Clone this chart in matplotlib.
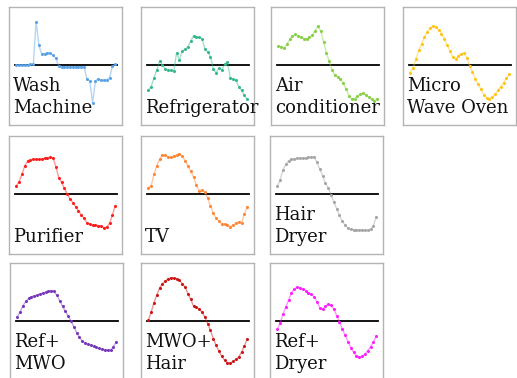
import matplotlib
matplotlib.use('Agg')
import matplotlib.pyplot as plt

W, H = 517, 378

labels = ['Wash\nMachine', 'Refrigerator', 'Air\nconditioner', 'Micro\nWave Oven',
	'Purifier', 'TV', 'Hair\nDryer',
	'Ref+\nMWO', 'MWO+\nHair', 'Ref+\nDryer']

colors = ['#5aa2e6', '#34b88a', '#86d042', '#ffc414',
	'#ff1c1c', '#ff8532', '#a6a6a6',
	'#7836bc', '#cc1414', '#ff1cff']

wash = [0, 0, 0, 0, 0, 0.02, 0.02, 1.30, 0.59, 0.32, 0.34, 0.37, 0.36, 0.29, 0.20, -0.03,
	-0.05, -0.05, -0.05, -0.05, -0.05, -0.05, -0.05, -0.05, -0.06, -0.43, -0.48, -1.13,
	-0.48, -0.41, -0.46, -0.45, -0.45, -0.38, -0.03, 0.02]
fridge = [-0.75, -0.65, -0.38, -0.15, 0.12, 0.01, -0.13, -0.16, -0.15, -0.18, 0.37, 0.15,
	0.42, 0.47, 0.54, 0.72, 0.87, 0.85, 0.83, 0.79, 0.49, 0.39, 0.25, -0.11, -0.23, -0.10,
	-0.15, 0.02, 0.09, -0.38, -0.43, -0.46, -0.65, -0.76, -0.91, -1.03]
aircon = [0.57, 0.55, 0.50, 0.62, 0.77, 0.87, 0.92, 0.87, 0.83, 0.79, 0.79, 0.83, 0.89,
	1.02, 1.17, 1.02, 0.70, 0.37, 0.12, -0.15, -0.31, -0.36, -0.41, -0.55, -0.71, -0.93,
	-1.03, -1.01, -0.93, -0.88, -0.85, -0.90, -0.96, -1.03, -1.08, -1.01]
mwo = [-0.23, -0.08, 0.19, 0.44, 0.64, 0.85, 1.00, 1.11, 1.17, 1.14, 1.05, 0.94, 0.79,
	0.61, 0.42, 0.25, 0.17, 0.27, 0.34, 0.35, 0.22, -0.03, -0.21, -0.41, -0.58, -0.73,
	-0.89, -0.99, -1.01, -0.95, -0.87, -0.76, -0.65, -0.53, -0.40, -0.28]
purifier = [0.25, 0.37, 0.60, 0.85, 0.99, 1.03, 1.04, 1.04, 1.04, 1.05, 1.07, 1.09, 1.10,
	1.08, 0.82, 0.49, 0.35, 0.17, 0.00, -0.15, -0.26, -0.38, -0.50, -0.63, -0.73, -0.87,
	-0.91, -0.93, -0.93, -0.95, -0.96, -1.01, -0.99, -0.88, -0.63, -0.36]
tv = [0.19, 0.25, 0.59, 0.85, 1.04, 1.17, 1.16, 1.11, 1.10, 1.14, 1.17, 1.21, 1.13, 1.00,
	0.84, 0.69, 0.50, 0.27, 0.09, 0.12, 0.06, -0.13, -0.35, -0.58, -0.73, -0.82, -0.89,
	-0.91, -0.93, -0.98, -0.93, -0.88, -0.83, -0.86, -0.61, -0.38]
dryer = [0.23, 0.43, 0.73, 0.89, 1.00, 1.05, 1.06, 1.07, 1.07, 1.08, 1.08, 1.10, 1.11,
	1.12, 0.95, 0.75, 0.55, 0.33, 0.18, -0.02, -0.24, -0.44, -0.64, -0.82, -0.94, -1.02,
	-1.06, -1.07, -1.07, -1.07, -1.07, -1.08, -1.09, -1.06, -0.95, -0.69]
ref_mwo = [0.13, 0.28, 0.46, 0.59, 0.68, 0.73, 0.75, 0.78, 0.81, 0.84, 0.86, 0.89, 0.91,
	0.89, 0.77, 0.61, 0.44, 0.29, 0.15, 0.00, -0.17, -0.35, -0.49, -0.60, -0.66, -0.70,
	-0.72, -0.76, -0.79, -0.82, -0.84, -0.86, -0.88, -0.88, -0.77, -0.62]
mwo_hair = [0.02, 0.27, 0.55, 0.79, 0.99, 1.12, 1.20, 1.27, 1.30, 1.29, 1.27, 1.22, 1.12,
	1.02, 0.82, 0.65, 0.45, 0.41, 0.35, 0.27, 0.12, -0.08, -0.28, -0.53, -0.73, -0.91,
	-1.06, -1.18, -1.25, -1.27, -1.21, -1.15, -1.08, -0.93, -0.75, -0.53]
ref_dryer = [-0.25, -0.05, 0.20, 0.43, 0.63, 0.85, 0.96, 1.01, 1.00, 0.96, 0.91, 0.85,
	0.80, 0.73, 0.58, 0.40, 0.35, 0.45, 0.50, 0.48, 0.35, 0.16, -0.03, -0.25, -0.42, -0.62,
	-0.80, -0.94, -1.04, -1.09, -1.06, -0.99, -0.89, -0.77, -0.63, -0.45]

series = [wash, fridge, aircon, mwo, purifier, tv, dryer, ref_mwo, mwo_hair, ref_dryer]

# panel boxes in pixels (left, top), all the same size
boxes = [(9, 7), (141, 7), (271, 7), (403, 7),
	(9, 136), (141, 136), (270, 136),
	(10, 263), (141, 263), (270, 263)]
bw, bh = 113, 118

fig = plt.figure(figsize=(W / 100, H / 100), dpi=100)

for (left, top), lab, col, vals in zip(boxes, labels, colors, series):
	ax = fig.add_axes([left / W, 1 - (top + bh) / H, bw / W, bh / H])
	x = list(range(len(vals)))
	ax.plot([-0.6, len(vals) - 0.4], [0, 0], color='black', lw=1.3, zorder=1)
	ax.plot(x, vals, color=col, lw=1.0, alpha=0.45, zorder=2)
	ax.plot(x, vals, ls='none', marker='o', ms=2.2, mew=0, color=col, zorder=3)
	ax.set_xlim(-2.6, 37.4)
	ax.set_ylim(-1.80, 1.74)
	ax.set_xticks([])
	ax.set_yticks([])
	for s in ax.spines.values():
		s.set_color('#b4b4b4')
		s.set_linewidth(1.0)

	lines = lab.split('\n')
	for k, ln in enumerate(lines):
		base = top + 106 - 22 * (len(lines) - 1 - k)
		fig.text((left + 4) / W, 1 - base / H, ln, family='DejaVu Serif',
			fontsize=13, color='#111111', va='baseline', ha='left')

fig.savefig('out.png', dpi=100)
